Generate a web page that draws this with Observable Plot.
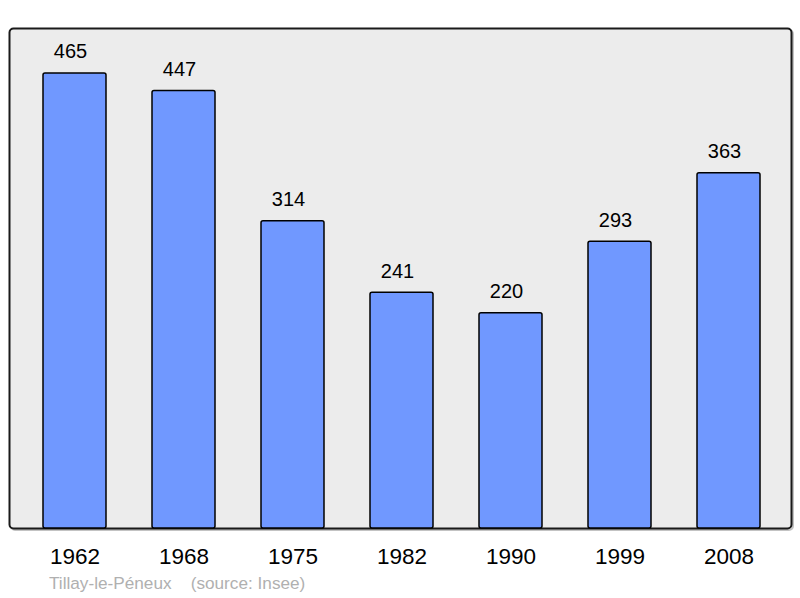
<!DOCTYPE html>
<html>
<head>
<meta charset="utf-8">
<script src="https://cdn.jsdelivr.net/npm/d3@7"></script>
<script src="https://cdn.jsdelivr.net/npm/@observablehq/plot@0.6"></script>
<style>
  html, body { margin: 0; padding: 0; background: white; }
</style>
</head>
<body>
<div id="chart"></div>
<script>
const years = ["1962", "1968", "1975", "1982", "1990", "1999", "2008"];
const population = [465, 447, 314, 241, 220, 293, 363];
const captionText = "Tillay-le-Péneux\u00a0\u00a0\u00a0\u00a0(source: Insee)";

const data = years.map((year, i) => ({year, pop: population[i]}));

const chart = Plot.plot({
  width: 800,
  height: 598,
  marginLeft: 9,
  marginRight: 9,
  marginTop: 28,
  marginBottom: 70,
  x: {domain: years, paddingInner: 0.424, paddingOuter: 0.29, align: 0.52, axis: null},
  y: {domain: [0, 511], axis: null},
  style: {fontFamily: "'Liberation Sans', Arial, sans-serif", background: "white", color: "black"},
  marks: [
    Plot.frame({fill: "none", stroke: "#888", strokeOpacity: 0.5, strokeWidth: 2, rx: 4, dx: 1.5, dy: 1.5}),
    Plot.frame({fill: "#ececec", stroke: "#1a1a1a", strokeWidth: 2, rx: 4}),
    Plot.barY(data, {x: "year", y: "pop", fill: "#7098ff", stroke: "black", strokeWidth: 1.5, rx: 2}),
    Plot.text(data, {x: "year", y: "pop", text: d => String(d.pop), dx: -4.5, dy: -21.5, fontSize: 20, lineAnchor: "middle", fill: "black"}),
    Plot.text(data, {x: "year", y: () => 0, text: "year", dy: 28.5, fontSize: 22.5, lineAnchor: "middle", fill: "black"}),
    Plot.text([captionText], {frameAnchor: "bottom-left", text: d => d, dx: 39.5, dy: 55, fontSize: 17.2, lineAnchor: "middle", textAnchor: "start", fill: "#b0b0b0"})
  ]
});
document.getElementById("chart").appendChild(chart);
</script>
</body>
</html>
